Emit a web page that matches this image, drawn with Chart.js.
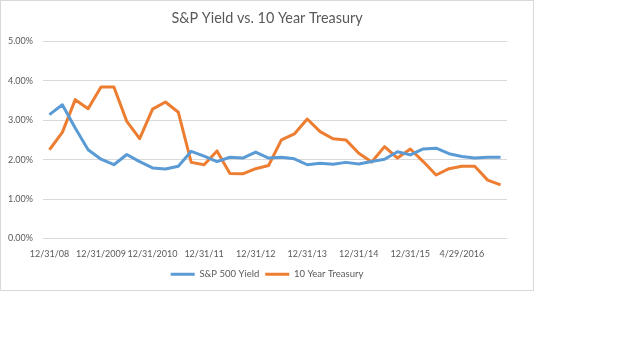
<!DOCTYPE html>
<html>
<head>
<meta charset="utf-8">
<script src="https://cdn.jsdelivr.net/npm/chart.js@4.4.0/dist/chart.umd.min.js"></script>
<style>
body { margin:0; background:#fff; }
#box { position:absolute; left:0; top:0; width:534px; height:291px; border:1px solid #d9d9d9; box-sizing:border-box; }
#box canvas { display:block; }
</style>
</head>
<body>
<div id="box"><canvas id="chart" width="532" height="289"></canvas></div>
<script>
// quarterly, then monthly in 2016
var categories = ["12/31/08","3/31/09","6/30/09","9/30/09","12/31/2009","3/31/10","6/30/10","9/30/10",
  "12/31/2010","3/31/11","6/30/11","9/30/11","12/31/11","3/31/12","6/29/12","9/28/12",
  "12/31/12","3/28/13","6/28/13","9/30/13","12/31/13","3/31/14","6/30/14","9/30/14",
  "12/31/14","3/31/15","6/30/15","9/30/15","12/31/15","1/29/16","2/29/16","3/31/16",
  "4/29/2016","5/31/16","6/30/16","7/29/16"];
var spYield = [3.14,3.39,2.80,2.25,2.01,1.87,2.13,1.95,
  1.79,1.76,1.83,2.21,2.09,1.95,2.06,2.04,
  2.19,2.04,2.06,2.02,1.87,1.91,1.88,1.93,
  1.89,1.95,2.01,2.20,2.12,2.27,2.29,2.15,
  2.08,2.04,2.06,2.06];
var treasury = [2.25,2.69,3.52,3.29,3.84,3.84,2.97,2.53,
  3.28,3.46,3.20,1.93,1.87,2.22,1.65,1.64,
  1.77,1.85,2.50,2.65,3.03,2.71,2.53,2.50,
  2.16,1.94,2.33,2.04,2.27,1.95,1.61,1.77,
  1.83,1.83,1.48,1.36];
var yTicks = [0,1,2,3,4,5];

var txt = '#595959';
var fam = 'Lato, "Open Sans", sans-serif';

var ctx = document.getElementById('chart').getContext('2d');
var chart = new Chart(ctx, {
  type: 'line',
  data: {
    labels: categories,
    datasets: [{
      label: 'S&P 500 Yield',
      data: spYield,
      borderColor: '#5B9BD5',
      backgroundColor: '#5B9BD5',
      borderWidth: 3,
      pointRadius: 0,
      tension: 0,
      borderJoinStyle: 'round'
    }, {
      label: '10 Year Treasury',
      data: treasury,
      borderColor: '#ED7D31',
      backgroundColor: '#ED7D31',
      borderWidth: 3,
      pointRadius: 0,
      tension: 0,
      borderJoinStyle: 'round'
    }]
  },
  options: {
    responsive: false,
    animation: false,
    layout: { padding: { left: 0, right: 0, top: 0, bottom: 1 } },
    plugins: {
      title: {
        display: true,
        text: 'S&P Yield vs. 10 Year Treasury',
        color: txt,
        font: { family: fam, size: 14.4, weight: 'normal' },
        padding: { top: 9, bottom: 14 }
      },
      legend: {
        position: 'bottom',
        labels: {
          color: txt,
          font: { family: fam, size: 9.5 },
          usePointStyle: true,
          pointStyle: 'line',
          pointStyleWidth: 24,
          padding: 6
        }
      },
      tooltip: { enabled: false }
    },
    scales: {
      x: {
        offset: true,
        grid: { display: false },
        border: { display: false },
        ticks: {
          color: txt,
          font: { family: fam, size: 9 },
          autoSkip: false,
          maxRotation: 0,
          padding: 2,
          callback: function(v, i) { return i % 4 === 0 ? categories[i] : ''; }
        },
        afterFit: function(s) { s.height = 25; }
      },
      y: {
        min: 0,
        max: 5,
        afterBuildTicks: function(s) { s.ticks = yTicks.map(function(v) { return { value: v }; }); },
        grid: { color: '#d9d9d9', drawTicks: false },
        border: { display: false },
        ticks: {
          color: txt,
          font: { family: fam, size: 9 },
          padding: 10,
          callback: function(v) { return v.toFixed(2) + '%'; }
        },
        afterFit: function(s) { s.width = 42; }
      },
      y2: {
        position: 'right',
        grid: { display: false },
        border: { display: false },
        ticks: { display: false },
        afterFit: function(s) { s.width = 26; }
      }
    }
  }
});
</script>
</body>
</html>
